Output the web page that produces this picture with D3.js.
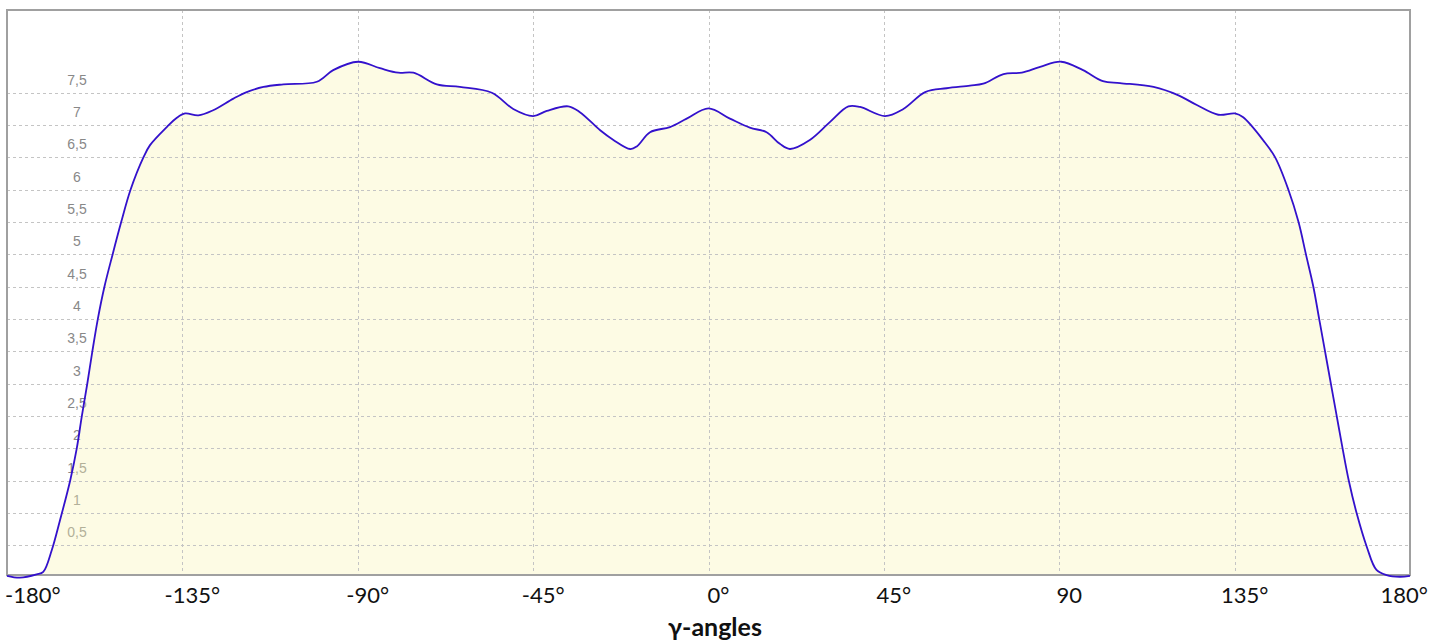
<!DOCTYPE html>
<html>
<head>
<meta charset="utf-8">
<script src="https://cdn.jsdelivr.net/npm/d3@7"></script>
<style>
  body { margin: 0; background: #fff; }
  svg { display: block; }
</style>
</head>
<body>
<script>
// Data

var angles = [-180, -176.7, -172.4, -170.7, -168.5, -166.4, -163.8, -162.1, -160.8, -159.4,
  -158.1, -156.7, -155.0, -152.9, -150.7, -148.3, -145.0, -143.3, -139.0, -136.5,
  -134.3, -130.9, -127.1, -121.9, -118.5, -114.2, -109.1, -100.5, -96.3, -89.9,
  -84.3, -79.6, -75.7, -69.7, -63.8, -55.6, -50.1, -45.0, -41.5, -36.0,
  -33.0, -27.8, -24.4, -20.1, -18.4, -15.0, -9.9, -5.6, 0, 5.5,
  10.6, 14.9, 18.3, 20.9, 26.0, 31.2, 35.9, 38.9, 45.3, 50.0,
  55.6, 61.1, 67.1, 70.5, 75.7, 80.4, 85.1, 90.5, 96.1, 101.2,
  105.6, 114.2, 120.6, 125.3, 130.8, 135.1, 137.2, 142.4, 145.4, 148.8,
  151.4, 153.3, 155.2, 156.7, 158.2, 159.7, 161.2, 162.7, 164.3, 166.3,
  168.9, 171.4, 174.0, 177.4, 180];

var values = [0.03, 0.0, 0.05, 0.09, 0.43, 0.89, 1.50, 2.0, 2.5, 3.0,
  3.5, 4.0, 4.5, 5.0, 5.5, 6.0, 6.5, 6.69, 6.97, 7.11,
  7.18, 7.15, 7.23, 7.41, 7.51, 7.59, 7.63, 7.67, 7.85, 7.98,
  7.88, 7.81, 7.81, 7.63, 7.59, 7.50, 7.25, 7.14, 7.22, 7.29,
  7.20, 6.92, 6.77, 6.63, 6.67, 6.89, 6.97, 7.10, 7.26, 7.10,
  6.96, 6.89, 6.71, 6.63, 6.77, 7.05, 7.29, 7.28, 7.14, 7.25,
  7.51, 7.57, 7.61, 7.64, 7.79, 7.81, 7.90, 7.98, 7.85, 7.68,
  7.65, 7.59, 7.46, 7.31, 7.16, 7.18, 7.12, 6.76, 6.50, 6.0,
  5.5, 5.0, 4.5, 4.0, 3.5, 3.0, 2.5, 2.0, 1.5, 1.0,
  0.48, 0.12, 0.04, 0.015, 0.03];

var xTicks = [-180, -135, -90, -45, 0, 45, 90, 135, 180];
var xTickLabels = ["-180°", "-135°", "-90°", "-45°", "0°", "45°", "90", "135°", "180°"];

var yTicks = [0.5, 1, 1.5, 2, 2.5, 3, 3.5, 4, 4.5, 5, 5.5, 6, 6.5, 7, 7.5];
var yTickLabels = ["0,5", "1", "1,5", "2", "2,5", "3", "3,5", "4", "4,5", "5", "5,5", "6", "6,5", "7", "7,5"];

var xTitle = "γ-angles";

// 1. Sizes

var W = 1444, H = 643;
var plot = {left: 7, right: 1410, top: 10, bottom: 575};

var svg = d3.select("body").append("svg")
    .attr("width", W)
    .attr("height", H);

// 2. Scales

var x = d3.scaleLinear().domain([-180, 180]).range([plot.left, plot.right]);
var y = d3.scaleLinear().domain([0.042, 8.78]).range([plot.bottom, plot.top]);

var data = angles.map(function(a, i) { return {a: a, v: values[i]}; });

// 3. Y labels (drawn under the translucent fill)

svg.append("g")
    .selectAll("text")
    .data(yTicks)
    .enter().append("text")
    .attr("x", 77)
    .attr("y", function(d) { return y(d) - 8; })
    .attr("text-anchor", "middle")
    .attr("font-family", "'Liberation Sans', Arial, sans-serif")
    .attr("font-size", 14)
    .attr("fill", "#888888")
    .text(function(d, i) { return yTickLabels[i]; });

// 4. Area

var curve = d3.curveCatmullRom.alpha(0.5);

var area = d3.area()
    .x(function(d) { return x(d.a); })
    .y0(plot.bottom)
    .y1(function(d) { return y(d.v); })
    .curve(curve);

svg.append("path")
    .datum(data)
    .attr("d", area)
    .attr("fill", "rgb(250,244,182)")
    .attr("fill-opacity", 0.37);

// 5. Grid lines

svg.append("g")
    .selectAll("line")
    .data(yTicks)
    .enter().append("line")
    .attr("x1", plot.left).attr("x2", plot.right)
    .attr("y1", function(d) { return Math.round(y(d)) + 0.5; })
    .attr("y2", function(d) { return Math.round(y(d)) + 0.5; })
    .attr("stroke", "#c4c4c4")
    .attr("stroke-dasharray", "3,3");

svg.append("g")
    .selectAll("line")
    .data(xTicks.slice(1, -1))
    .enter().append("line")
    .attr("y1", plot.top).attr("y2", plot.bottom)
    .attr("x1", function(d) { return Math.round(x(d)) + 0.5; })
    .attr("x2", function(d) { return Math.round(x(d)) + 0.5; })
    .attr("stroke", "#c4c4c4")
    .attr("stroke-dasharray", "3,3");

// 6. Frame and curve

svg.append("path")
    .attr("d", "M" + plot.left + "," + plot.bottom + "V" + plot.top + "H" + plot.right + "V" + plot.bottom + "Z")
    .attr("fill", "none")
    .attr("stroke", "#a0a0a0")
    .attr("stroke-width", 2);

var line = d3.line()
    .x(function(d) { return x(d.a); })
    .y(function(d) { return y(d.v); })
    .curve(curve);

svg.append("path")
    .datum(data)
    .attr("d", line)
    .attr("fill", "none")
    .attr("stroke", "#3311cc")
    .attr("stroke-width", 1.8);

// 7. X tick labels and title

svg.append("g")
    .selectAll("text")
    .data(xTicks)
    .enter().append("text")
    .attr("x", function(d, i) {
        if (i === 0) return 5;
        if (i === xTicks.length - 1) return 1428;
        return x(d) + 10;
    })
    .attr("y", 603)
    .attr("text-anchor", function(d, i) {
        if (i === 0) return "start";
        if (i === xTicks.length - 1) return "end";
        return "middle";
    })
    .attr("font-family", "Lato, 'Open Sans', sans-serif")
    .attr("font-size", 22)
    .attr("fill", "#111")
    .text(function(d, i) { return xTickLabels[i]; });

svg.append("text")
    .attr("x", 715)
    .attr("y", 636)
    .attr("text-anchor", "middle")
    .attr("font-family", "Lato, 'Open Sans', sans-serif")
    .attr("font-weight", "bold")
    .attr("font-size", 25)
    .attr("fill", "#111")
    .text(xTitle);
</script>
</body>
</html>
